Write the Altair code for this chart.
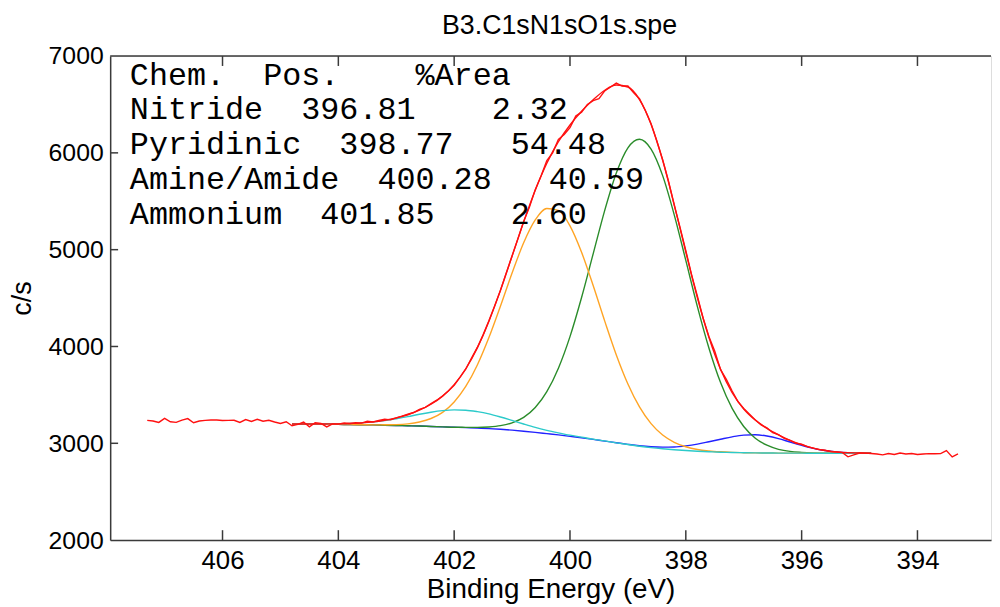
import altair as alt
import pandas as pd

# ---------------- data ----------------
X_TICKS = [406, 404, 402, 400, 398, 396, 394]
Y_TICKS = [2000, 3000, 4000, 5000, 6000, 7000]
Y_INNER_TICKS = [3000, 4000, 5000, 6000]

E_FIT = [404.8, 404.6, 404.4, 404.2, 404.0, 403.8, 403.6, 403.4, 403.2, 403.0,
         402.8, 402.6, 402.4, 402.2, 402.0, 401.8, 401.6, 401.4, 401.2, 401.0,
         400.8, 400.6, 400.4, 400.2, 400.0, 399.8, 399.6, 399.4, 399.2, 399.0,
         398.8, 398.6, 398.4, 398.2, 398.0, 397.8, 397.6, 397.4, 397.2, 397.0,
         396.8, 396.6, 396.4, 396.2, 396.0, 395.8, 395.6, 395.4, 395.2, 395.0, 394.8]

NITRIDE = [3200, 3199, 3198, 3197, 3195, 3194, 3192, 3190, 3187, 3184,
           3181, 3178, 3174, 3170, 3166, 3162, 3157, 3152, 3145, 3136,
           3125, 3113, 3100, 3087, 3072, 3057, 3040, 3023, 3006, 2989,
           2974, 2964, 2960, 2962, 2973, 2991, 3016, 3042, 3067, 3084,
           3088, 3075, 3049, 3013, 2978, 2947, 2925, 2911, 2903, 2900, 2897]

PYRIDINIC = [3200, 3199, 3198, 3197, 3195, 3194, 3192, 3190, 3187, 3184,
             3181, 3178, 3174, 3170, 3166, 3165, 3164, 3169, 3182, 3211,
             3267, 3369, 3533, 3776, 4102, 4506, 4956, 5406, 5792, 6052,
             6141, 6039, 5765, 5360, 4889, 4412, 3982, 3627, 3360, 3174,
             3053, 2980, 2938, 2916, 2906, 2900, 2897, 2897, 2897, 2897, 2897]

AMINE = [3200, 3199, 3198, 3197, 3195, 3194, 3192, 3190, 3191, 3193,
         3201, 3220, 3256, 3320, 3427, 3587, 3809, 4092, 4418, 4759,
         5071, 5307, 5425, 5405, 5246, 4973, 4629, 4262, 3913, 3613,
         3376, 3203, 3085, 3010, 2964, 2936, 2921, 2912, 2906, 2903,
         2901, 2900, 2899, 2898, 2898, 2897, 2897, 2897, 2897, 2897, 2897]

AMMONIUM = [3200, 3200, 3199, 3200, 3201, 3205, 3211, 3221, 3234, 3253,
            3275, 3300, 3321, 3337, 3345, 3342, 3327, 3304, 3272, 3236,
            3199, 3164, 3134, 3108, 3084, 3064, 3043, 3025, 3005, 2987,
            2970, 2955, 2943, 2933, 2925, 2918, 2913, 2908, 2905, 2903,
            2901, 2900, 2899, 2898, 2898, 2897, 2897, 2897, 2897, 2897, 2897]

ENVELOPE = [3200, 3200, 3199, 3200, 3201, 3205, 3211, 3221, 3238, 3262,
            3295, 3342, 3403, 3487, 3606, 3770, 3986, 4261, 4582, 4934,
            5287, 5614, 5892, 6115, 6288, 6429, 6548, 6647, 6701, 6680,
            6551, 6296, 5924, 5466, 4976, 4503, 4093, 3765, 3523, 3355,
            3240, 3155, 3088, 3031, 2986, 2950, 2925, 2911, 2903, 2900, 2897]

E_RAW = [407.3, 407.2, 407.1, 407.0, 406.9, 406.8, 406.7, 406.6, 406.5, 406.4,
         406.3, 406.2, 406.1, 406.0, 405.9, 405.8, 405.7, 405.6, 405.5, 405.4,
         405.3, 405.2, 405.1, 405.0, 404.9, 404.8, 404.7, 404.6, 404.5, 404.4,
         404.3, 404.2, 404.1, 404.0, 403.9, 403.8, 403.7, 403.6, 403.5, 403.4,
         403.3, 403.2, 403.1, 403.0, 402.9, 402.8, 402.7, 402.6, 402.5, 402.4,
         402.3, 402.2, 402.1, 402.0, 401.9, 401.8, 401.7, 401.6, 401.5, 401.4,
         401.3, 401.2, 401.1, 401.0, 400.9, 400.8, 400.7, 400.6, 400.5, 400.4,
         400.3, 400.2, 400.1, 400.0, 399.9, 399.8, 399.7, 399.6, 399.5, 399.4,
         399.3, 399.2, 399.1, 399.0, 398.9, 398.8, 398.7, 398.6, 398.5, 398.4,
         398.3, 398.2, 398.1, 398.0, 397.9, 397.8, 397.7, 397.6, 397.5, 397.4,
         397.3, 397.2, 397.1, 397.0, 396.9, 396.8, 396.7, 396.6, 396.5, 396.4,
         396.3, 396.2, 396.1, 396.0, 395.9, 395.8, 395.7, 395.6, 395.5, 395.4,
         395.3, 395.2, 395.1, 395.0, 394.9, 394.8, 394.7, 394.6, 394.5, 394.4,
         394.3, 394.2, 394.1, 394.0, 393.9, 393.8, 393.7, 393.6, 393.5, 393.4,
         393.3]

RAW = [3237, 3230, 3216, 3257, 3222, 3216, 3240, 3255, 3212, 3230,
       3237, 3240, 3240, 3236, 3237, 3238, 3215, 3245, 3225, 3248,
       3228, 3238, 3220, 3205, 3222, 3180, 3195, 3220, 3170, 3212,
       3205, 3170, 3200, 3198, 3210, 3205, 3212, 3208, 3228, 3220,
       3236, 3250, 3242, 3262, 3280, 3300, 3318, 3350, 3372, 3410,
       3445, 3488, 3540, 3600, 3680, 3765, 3880, 3990, 4120, 4265,
       4420, 4580, 4760, 4935, 5110, 5290, 5440, 5620, 5760, 5920,
       6000, 6140, 6190, 6260, 6380, 6420, 6500, 6540, 6560, 6640,
       6680, 6720, 6690, 6690, 6620, 6560, 6440, 6300, 6120, 5930,
       5710, 5460, 5230, 4990, 4740, 4520, 4290, 4100, 3950, 3760,
       3660, 3540, 3430, 3360, 3300, 3240, 3190, 3160, 3110, 3090,
       3050, 3030, 3000, 2990, 2965, 2950, 2935, 2930, 2915, 2910,
       2905, 2860, 2880, 2900, 2898, 2895, 2890, 2880, 2895, 2885,
       2900, 2890, 2895, 2885, 2890, 2893, 2892, 2893, 2925, 2860,
       2890]

TABLE_LINES = [
    "Chem.  Pos.    %Area",
    "Nitride  396.81    2.32",
    "Pyridinic  398.77   54.48",
    "Amine/Amide  400.28   40.59",
    "Ammonium  401.85    2.60",
]
TABLE_E = [407.6, 407.6, 407.6, 407.6, 407.6]
TABLE_Y = [6706, 6346, 5988, 5628, 5266]

TITLE = "B3.C1sN1sO1s.spe"
X_TITLE = "Binding Energy (eV)"
Y_TITLE = "c/s"

# ---------------- chart ----------------
W, H = 888, 488
SANS = "Liberation Sans"
MONO = "Liberation Mono"
AXC = "#3a3a3a"

x_scale = alt.Scale(domain=[392.73, 407.94], reverse=True, nice=False, zero=False)
y_scale = alt.Scale(domain=[2000, 7000], nice=False, zero=False)

x_axis = alt.Axis(values=X_TICKS, format="d", tickSize=0, grid=False,
                  labelFont=SANS, labelFontSize=26, labelColor="black",
                  labelPadding=8, labelFlush=False,
                  domainColor=AXC, domainWidth=1.5,
                  title=X_TITLE, titleFont=SANS, titleFontSize=28,
                  titleFontWeight="normal", titleColor="black", titlePadding=2)
y_axis = alt.Axis(values=Y_TICKS, format="d", tickSize=0, grid=False,
                  labelFont=SANS, labelFontSize=25, labelColor="black",
                  labelPadding=7, labelFlush=False,
                  domainColor=AXC, domainWidth=1.5,
                  title=Y_TITLE, titleFont=SANS, titleFontSize=27,
                  titleFontWeight="normal", titleColor="black", titlePadding=12)


def line_layer(es, vs, color, width, interp):
    df = pd.DataFrame({"E": es, "v": vs})
    return alt.Chart(df).mark_line(color=color, strokeWidth=width,
                                   interpolate=interp).encode(
        x=alt.X("E:Q", scale=x_scale, axis=x_axis),
        y=alt.Y("v:Q", scale=y_scale, axis=y_axis),
    )


layers = [
    line_layer(E_FIT, NITRIDE, "#2222ff", 1.4, "monotone"),
    line_layer(E_FIT, PYRIDINIC, "#2a8c2a", 1.4, "monotone"),
    line_layer(E_FIT, AMINE, "#ffa424", 1.4, "monotone"),
    line_layer(E_FIT, AMMONIUM, "#2ccaca", 1.4, "monotone"),
    line_layer(E_FIT, ENVELOPE, "#ff1010", 1.4, "monotone"),
    line_layer(E_RAW, RAW, "#ff1010", 1.4, "linear"),
]

xt = pd.DataFrame({"E": X_TICKS[:]})
bottom_ticks = alt.Chart(xt).mark_rule(color=AXC, strokeWidth=1.5).encode(
    x=alt.X("E:Q", scale=x_scale, axis=x_axis), y=alt.value(H - 10), y2=alt.value(H))
top_ticks = alt.Chart(xt).mark_rule(color=AXC, strokeWidth=1.5).encode(
    x=alt.X("E:Q", scale=x_scale, axis=x_axis), y=alt.value(0), y2=alt.value(10))

yt = pd.DataFrame({"v": Y_INNER_TICKS})
left_ticks = alt.Chart(yt).mark_rule(color=AXC, strokeWidth=1.5).encode(
    y=alt.Y("v:Q", scale=y_scale, axis=y_axis), x=alt.value(0), x2=alt.value(8))

one = pd.DataFrame({"t": [TITLE]})
top_frame = alt.Chart(one).mark_rule(color=AXC, strokeWidth=1.5).encode(
    x=alt.value(0), x2=alt.value(W), y=alt.value(0))

title_text = alt.Chart(one).mark_text(
    font=SANS, fontSize=27, align="center", baseline="alphabetic", color="black"
).encode(x=alt.value(W / 2 + 9), y=alt.value(-22), text="t:N")

tdf = pd.DataFrame({
    "E": TABLE_E,
    "v": TABLE_Y,
    "t": [s.replace(" ", "\u00a0") for s in TABLE_LINES],
})
table = alt.Chart(tdf).mark_text(
    font=MONO, fontSize=32, align="left", baseline="alphabetic", color="black"
).encode(
    x=alt.X("E:Q", scale=x_scale, axis=x_axis),
    y=alt.Y("v:Q", scale=y_scale, axis=y_axis),
    text="t:N",
)

chart = alt.layer(
    bottom_ticks, top_ticks, left_ticks, top_frame, *layers, table, title_text
).properties(
    width=W, height=H,
    autosize=alt.AutoSizeParams(type="none"),
    padding={"left": 103, "top": 46, "right": 1, "bottom": 65},
).configure_view(stroke=None).configure(background="white")

chart.save("out.html", embed_options={"renderer": "svg", "actions": False})
